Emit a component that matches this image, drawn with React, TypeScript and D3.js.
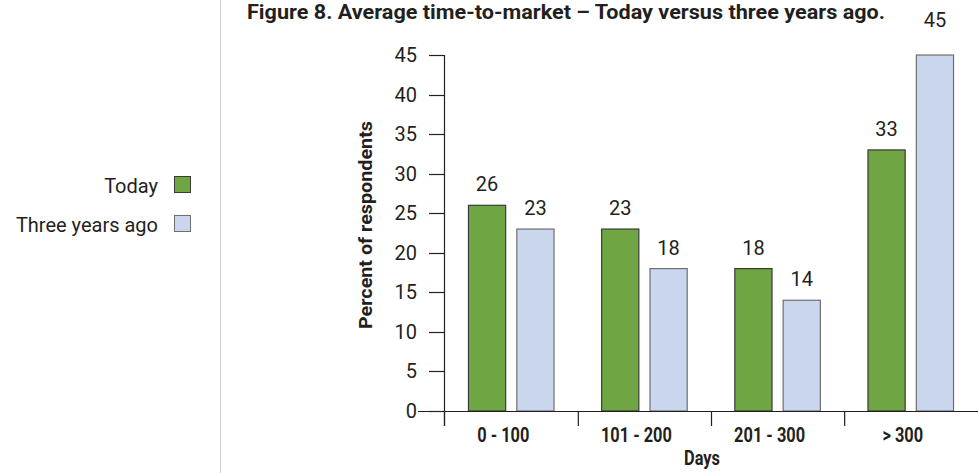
import React from "react";
import * as d3 from "d3";

const categories = ["0 - 100", "101 - 200", "201 - 300", "> 300"];
const seriesNames = ["Today", "Three years ago"];
const todayValues = [26, 23, 18, 33];
const threeYearsAgoValues = [23, 18, 14, 45];
const yTicks = [0, 5, 10, 15, 20, 25, 30, 35, 40, 45];

const W = 978;
const H = 473;
const FONT = "Roboto, 'Liberation Sans', Arial, sans-serif";
const INK = "#231f20";
const CONDENSE = 0.82;

const seriesStyle = [
  { fill: "#70a543", stroke: "#3a3a3a" },
  { fill: "#c9d6ee", stroke: "#6e6e6e" },
];

type TProps = {
  x: number;
  y: number;
  size: number;
  bold?: boolean;
  anchor?: "start" | "middle" | "end";
  squeeze?: number;
  rotate?: number;
  children: React.ReactNode;
};

// text drawn in a narrowed face: scaled horizontally around its anchor
function T({ x, y, size, bold, anchor = "start", squeeze = 1, rotate = 0, children }: TProps) {
  return (
    <text
      transform={`translate(${x},${y}) rotate(${rotate}) scale(${squeeze},1)`}
      textAnchor={anchor}
      fontFamily={FONT}
      fontWeight={bold ? "bold" : "normal"}
      fontSize={size}
      fill={INK}
    >
      {children}
    </text>
  );
}

export default function App() {
  const rows = categories.map((c, i) => ({
    category: c,
    values: [todayValues[i], threeYearsAgoValues[i]],
  }));

  const x0 = d3
    .scaleBand<string>()
    .domain(categories)
    .range([444, 978])
    .paddingInner(0.35)
    .paddingOuter(0.18);
  const x1 = d3
    .scaleBand<string>()
    .domain(seriesNames)
    .range([0, x0.bandwidth()])
    .paddingInner(0.21);
  const y = d3.scaleLinear().domain([0, 45]).range([411, 55]);

  const axisX = x0.range()[0];
  const step = x0.step();
  // category separators sit between the groups
  const separators = categories.map((c, i) =>
    i === 0 ? axisX : (x0(c) as number) - (step - x0.bandwidth()) / 2
  );

  return (
    <svg width={W} height={H} style={{ position: "absolute", left: 0, top: 0, background: "#fff" }}>
      <rect x={0} y={0} width={W} height={H} fill="#fff" />
      {/* divider between legend and plot */}
      <line x1={220.5} x2={220.5} y1={0} y2={H} stroke="#cfcfcf" strokeWidth={1} />

      {/* title */}
      <text
        x={247}
        y={19}
        fontFamily={FONT}
        fontWeight="bold"
        fontSize={20}
        fill={INK}
        textLength={638}
        lengthAdjust="spacingAndGlyphs"
      >
        Figure 8. Average time-to-market – Today versus three years ago.
      </text>

      {/* legend */}
      {seriesNames.map((name, i) => (
        <g key={name}>
          <T x={158} y={193 + i * 39} size={20} anchor="end">
            {name}
          </T>
          <rect
            x={174.5}
            y={176.5 + i * 39}
            width={16}
            height={16}
            fill={seriesStyle[i].fill}
            stroke={seriesStyle[i].stroke}
            strokeWidth={1}
          />
        </g>
      ))}

      {/* y axis */}
      <line x1={axisX + 0.5} x2={axisX + 0.5} y1={y(45)} y2={y(0) + 15} stroke={INK} strokeWidth={1.2} />
      {yTicks.map((t) => (
        <g key={t}>
          <line x1={429} x2={axisX} y1={Math.round(y(t)) + 0.5} y2={Math.round(y(t)) + 0.5} stroke={INK} strokeWidth={1.2} />
          <T x={417} y={y(t) + 7} size={20} anchor="end">
            {t}
          </T>
        </g>
      ))}
      <T x={372} y={225} size={19} bold anchor="middle" squeeze={1.04} rotate={-90}>
        Percent of respondents
      </T>

      {/* bars */}
      {rows.map((r) => (
        <g key={r.category} transform={`translate(${x0(r.category)},0)`}>
          {r.values.map((v, i) => {
            const bx = x1(seriesNames[i]) as number;
            const bw = x1.bandwidth();
            const top = y(v);
            const lift = v >= y.domain()[1] ? 28 : 14;
            return (
              <g key={i}>
                <rect
                  x={bx + 0.5}
                  y={top}
                  width={bw - 1}
                  height={y(0) - top}
                  fill={seriesStyle[i].fill}
                  stroke={seriesStyle[i].stroke}
                  strokeWidth={1.2}
                />
                <T x={bx + bw / 2} y={top - lift} size={20} anchor="middle">
                  {v}
                </T>
              </g>
            );
          })}
        </g>
      ))}

      {/* x axis */}
      <line x1={418} x2={W} y1={411.5} y2={411.5} stroke={INK} strokeWidth={1.2} />
      {separators.map((sx, i) => (
        <line key={i} x1={sx + 0.5} x2={sx + 0.5} y1={411} y2={426} stroke={INK} strokeWidth={1.2} />
      ))}
      {categories.map((c) => (
        <T key={c} x={(x0(c) as number) + x0.bandwidth() / 2 - 8} y={442} size={20} bold anchor="middle" squeeze={CONDENSE}>
          {c}
        </T>
      ))}
      <T x={702} y={465} size={20} bold anchor="middle" squeeze={CONDENSE}>
        Days
      </T>
    </svg>
  );
}
